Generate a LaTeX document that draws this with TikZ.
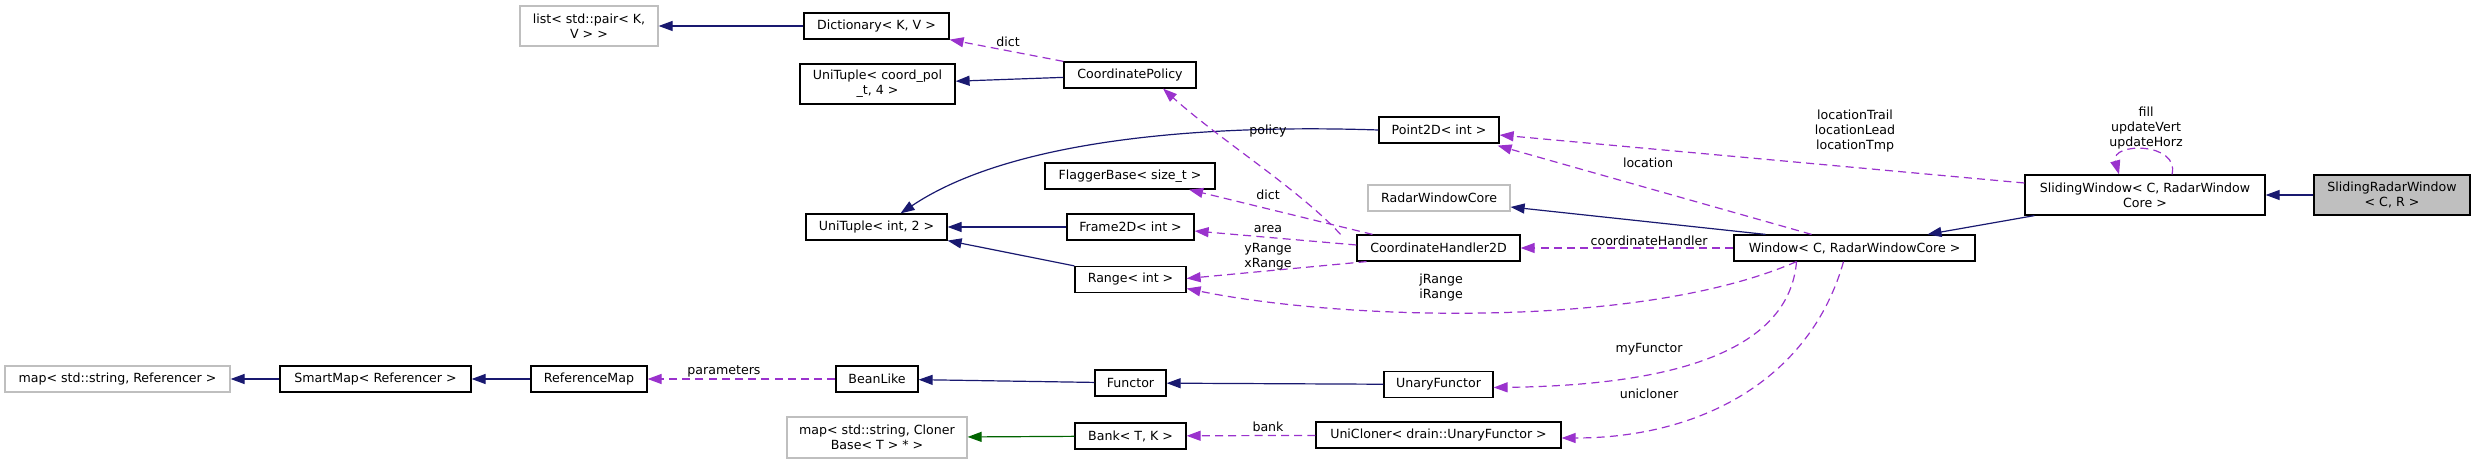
\documentclass[tikz,border=0pt]{standalone}
\usepackage{fontspec}
\setmainfont{DejaVu Sans}
\usepackage{tikz}
\usetikzlibrary{arrows.meta,positioning,calc}
\usepackage{xcolor}
\definecolor{navyedge}{HTML}{191970}
\definecolor{orchidedge}{HTML}{9A32CD}
\definecolor{greenedge}{HTML}{006400}
\definecolor{lightgrey}{HTML}{BFBFBF}

\begin{document}
\begin{tikzpicture}[x=0.5pt,y=-0.5pt,font=\fontsize{6.3}{7.5}\selectfont,
    cls/.style={draw=black,line width=0.6pt,fill=white,inner sep=0pt,align=center,minimum height=13pt},
    extcls/.style={cls,draw=lightgrey},
    inh/.style={-{Triangle[length=7pt,width=5pt]},navyedge,line width=0.6pt},
    usage/.style={-{Triangle[length=7pt,width=5pt]},orchidedge,line width=0.6pt,dash pattern=on 4pt off 2.6pt},
    lbl/.style={inner sep=0pt,align=center}]
    \useasboundingbox (0,0) rectangle (2476,464);
    % classes
    \foreach \n/\x/\y/\w/\t in {
        dict/876.5/26/145/{Dictionary< K, V >},
        cpol/1130/75/132/CoordinatePolicy,
        flag/1130/176/170/{FlaggerBase< size\_t >},
        ut2/876.5/227/141/{UniTuple< int, 2 >},
        frame/1130.5/227/127/{Frame2D< int >},
        range/1130.5/279.5/111/{Range< int >},
        smap/375.5/379/191/{SmartMap< Referencer >},
        refmap/589/379/116/ReferenceMap,
        bean/877/379/82/BeanLike,
        functor/1130.5/383/71/Functor,
        bank/1130.5/436/111/{Bank< T, K >},
        point/1439/130/120/{Point2D< int >},
        chand/1438.5/248/163/CoordinateHandler2D,
        unary/1438.5/384.5/109/UnaryFunctor,
        uclone/1438.5/435/245/{UniCloner< drain::UnaryFunctor >},
        window/1854.5/248/241/{Window< C, RadarWindowCore >}}{
        \node[cls,minimum width=\w*0.5pt] (\n) at (\x,\y) {\t};
    }
    \node[cls,minimum width=77.5pt,minimum height=20pt] (utcp) at (877.5,84) {UniTuple< coord\_pol\\\_t, 4 >};
    \node[cls,minimum width=120pt,minimum height=20pt] (sliding) at (2145,195) {SlidingWindow< C, RadarWindow\\Core >};
    \node[cls,fill=lightgrey,minimum width=78pt,minimum height=20pt] (srw) at (2392,195) {SlidingRadarWindow\\< C, R >};
    % external classes
    \node[extcls,minimum width=69pt,minimum height=20pt] (list) at (589,26) {list< std::pair< K,\\V > >};
    \node[extcls,minimum width=112.5pt] (mapref) at (117.5,379) {map< std::string, Referencer >};
    \node[extcls,minimum width=90pt,minimum height=20.5pt] (mapclo) at (877,437.5) {map< std::string, Cloner\\Base< T > * >};
    \node[extcls,minimum width=71pt] (rwc) at (1439,198) {RadarWindowCore};

    % inheritance
    \draw[inh] (dict) -- (list);
    \draw[inh] (cpol) -- (utcp);
    \draw[inh] (point.west) .. controls (1200,124) and (1010,140) .. ($(ut2.north)+(24,0)$);
    \draw[inh] (frame) -- (ut2);
    \draw[inh] (range.north west) -- (ut2.south east);
    \draw[inh] ($(window.north)+(-89,0)$) -- ($(rwc.east)+(0,9)$);
    \draw[inh] ($(sliding.south west)+(10,0)$) -- ($(window.north)+(73,0)$);
    \draw[inh] (srw) -- (sliding);
    \draw[inh] (unary) -- (functor);
    \draw[inh] (functor) -- (bean);
    \draw[inh] (refmap) -- (smap);
    \draw[inh] (smap) -- (mapref);
    \draw[inh,greenedge] (bank) -- (mapclo);

    % usage
    \draw[usage] (cpol.north west) -- (dict.south east);
    \draw[usage] ($(chand.north)+(-98,0)$) .. controls (1300,190) and (1220,140) .. ($(cpol.south)+(33,0)$);
    \draw[usage] ($(chand.north)+(-66,0)$) -- ($(flag.south)+(59,0)$);
    \draw[usage] ($(chand.west)+(0,-3)$) -- ($(frame.east)+(0,4)$);
    \draw[usage] ($(chand.south)+(-72,0)$) -- ($(range.east)+(0,-1)$);
    \draw[usage] ($(window.south)+(-58,0)$) .. controls (1640,330) and (1340,320) .. ($(range.east)+(0,9)$);
    \draw[usage] (window) -- (chand);
    \draw[usage] ($(window.north)+(-43,0)$) -- ($(point.south east)+(-2,2)$);
    \draw[usage] ($(sliding.west)+(0,-12)$) -- ($(point.east)+(0,5)$);
    \draw[usage] ($(sliding.north)+(27,0)$) .. controls (2180,142) and (2110,142) .. ($(sliding.north)+(-26,0)$);
    \draw[usage] ($(window.south)+(-58,0)$) .. controls (1790,340) and (1700,385) .. ($(unary.east)+(0,3)$);
    \draw[usage] ($(window.south)+(-11,0)$) .. controls (1810,380) and (1700,438) .. ($(uclone.east)+(0,3)$);
    \draw[usage] (bean) -- (refmap);
    \draw[usage] (uclone) -- (bank);

    % member names
    \node[lbl] (l-dict) at (1008,42) {dict};
    \node[lbl] (l-policy) at (1268,131) {policy};
    \node[lbl] (l-flagdict) at (1268,195) {dict};
    \node[lbl] (l-area) at (1268,229) {area};
    \node[lbl] (l-xy) at (1268,257) {yRange\\xRange};
    \node[lbl] (l-ij) at (1441,288) {jRange\\iRange};
    \node[lbl] (l-handler) at (1649,241) {coordinateHandler};
    \node[lbl] (l-location) at (1648,163) {location};
    \node[lbl] (l-trail) at (1855,131) {locationTrail\\locationLead\\locationTmp};
    \node[lbl] (l-self) at (2146,128) {fill\\updateVert\\updateHorz};
    \node[lbl] (l-func) at (1649,349) {myFunctor};
    \node[lbl] (l-clone) at (1649,394) {unicloner};
    \node[lbl] (l-param) at (724,371) {parameters};
    \node[lbl] (l-bank) at (1268,427) {bank};
\end{tikzpicture}
\end{document}
